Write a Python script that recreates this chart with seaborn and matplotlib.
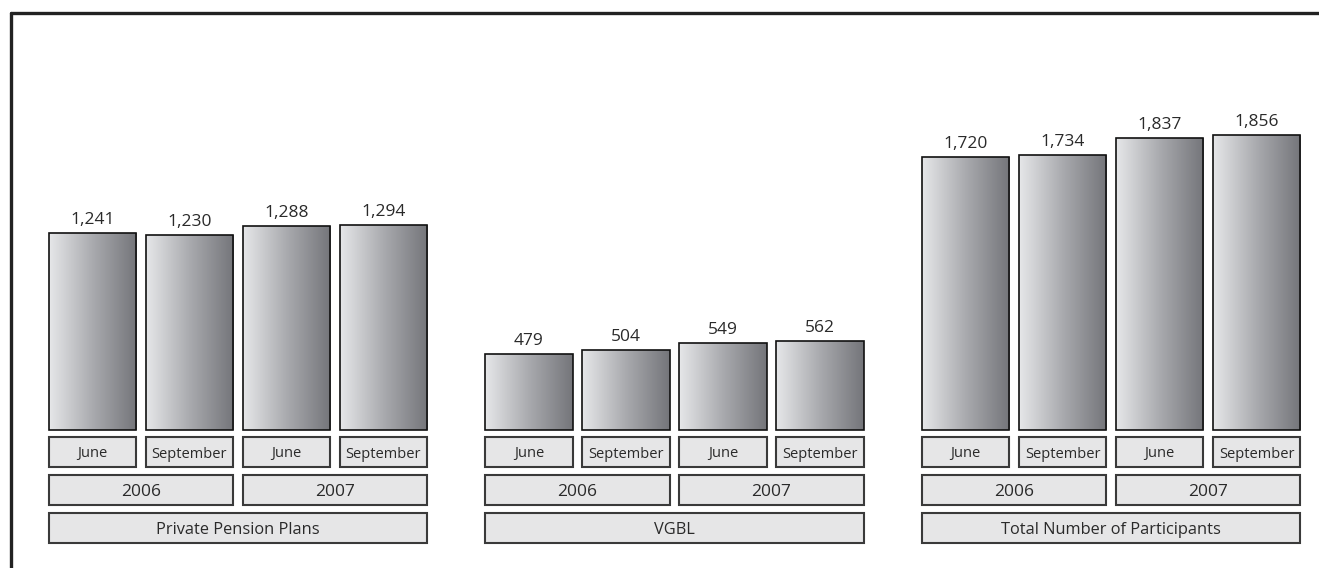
import numpy as np
import pandas as pd
import matplotlib.pyplot as plt
import seaborn as sns
from matplotlib.patches import Rectangle
from matplotlib.lines import Line2D
from matplotlib.colors import LinearSegmentedColormap

# data
groups = ['Private Pension Plans', 'VGBL', 'Total Number of Participants']
years = ['2006', '2007']
months = ['June', 'September']
values = {
    'Private Pension Plans': [1241, 1230, 1288, 1294],
    'VGBL': [479, 504, 549, 562],
    'Total Number of Participants': [1720, 1734, 1837, 1856],
}

rows = []
for g, grp in enumerate(groups):
    for i, v in enumerate(values[grp]):
        rows.append({'group': grp, 'year': years[i // 2], 'month': months[i % 2],
                     'pos': g * 4.5 + i, 'value': v})
df = pd.DataFrame(rows)

sns.set_style('white')
plt.rcParams['font.family'] = ['Open Sans', 'DejaVu Sans']

fig = plt.figure(figsize=(13.19, 5.68), dpi=100)
ax = fig.add_axes([0, 0, 1, 1])

upx = 6.30  # data units per pixel (vertical)
ax.set_xlim(-92.5 / 97, (1319 - 92.5) / 97)
ax.set_ylim(-138 * upx, 430 * upx)

sns.barplot(data=df, x='pos', y='value', native_scale=True, width=0.9,
            color='white', edgecolor='#111111', linewidth=1.2, errorbar=None, ax=ax)

# gradient fill in each bar
cmap = LinearSegmentedColormap.from_list('g', ['#e6e7e9', '#a9aaae', '#74757a'])
grad = np.linspace(0, 1, 256).reshape(1, -1)
for p in ax.patches:
    x0, y0 = p.get_x(), p.get_y()
    w, h = p.get_width(), p.get_height()
    im = ax.imshow(grad, cmap=cmap, extent=[x0, x0 + w, y0, y0 + h],
                   aspect='auto', zorder=p.get_zorder() - 0.1)
    im.set_clip_path(p)
    p.set_facecolor('none')
    p.set_zorder(3)

for _, r in df.iterrows():
    ax.text(r['pos'], r['value'] + 5 * upx, f"{r['value']:,}", ha='center', va='bottom',
            fontsize=12.5, color='#2a2a2a')

box_fc = '#e6e6e7'
box_ec = '#3a3a3a'


def label_box(x0, x1, top_px, bot_px, text, size):
    y_top = -(top_px) * upx
    y_bot = -(bot_px) * upx
    ax.add_patch(Rectangle((x0, y_bot), x1 - x0, y_top - y_bot, facecolor=box_fc,
                           edgecolor=box_ec, linewidth=1.5, zorder=2))
    ax.text((x0 + x1) / 2, (y_top + y_bot) / 2, text, ha='center', va='center_baseline',
            fontsize=size, color='#2a2a2a', zorder=3)


hw = 0.45
for g, grp in enumerate(groups):
    sub = df[df['group'] == grp].reset_index(drop=True)
    for _, r in sub.iterrows():
        label_box(r['pos'] - hw, r['pos'] + hw, 7, 37, r['month'], 10.5)
    for k, yr in enumerate(years):
        ps = sub[sub['year'] == yr]['pos']
        label_box(ps.min() - hw, ps.max() + hw, 45, 75, yr, 12.5)
    label_box(sub['pos'].min() - hw, sub['pos'].max() + hw, 83, 113, grp, 11.8)

ax.set_xlabel('')
ax.set_ylabel('')
ax.set_xticks([])
ax.set_yticks([])
for s in ax.spines.values():
    s.set_visible(False)

# frame on top and left
fig.add_artist(Line2D([10.5 / 1319, 10.5 / 1319], [0, 1 - 12.5 / 568], color='#222222', lw=2.4))
fig.add_artist(Line2D([10.5 / 1319, 1], [1 - 12.5 / 568, 1 - 12.5 / 568], color='#222222', lw=2.4))

fig.savefig('out.png', dpi=100)
